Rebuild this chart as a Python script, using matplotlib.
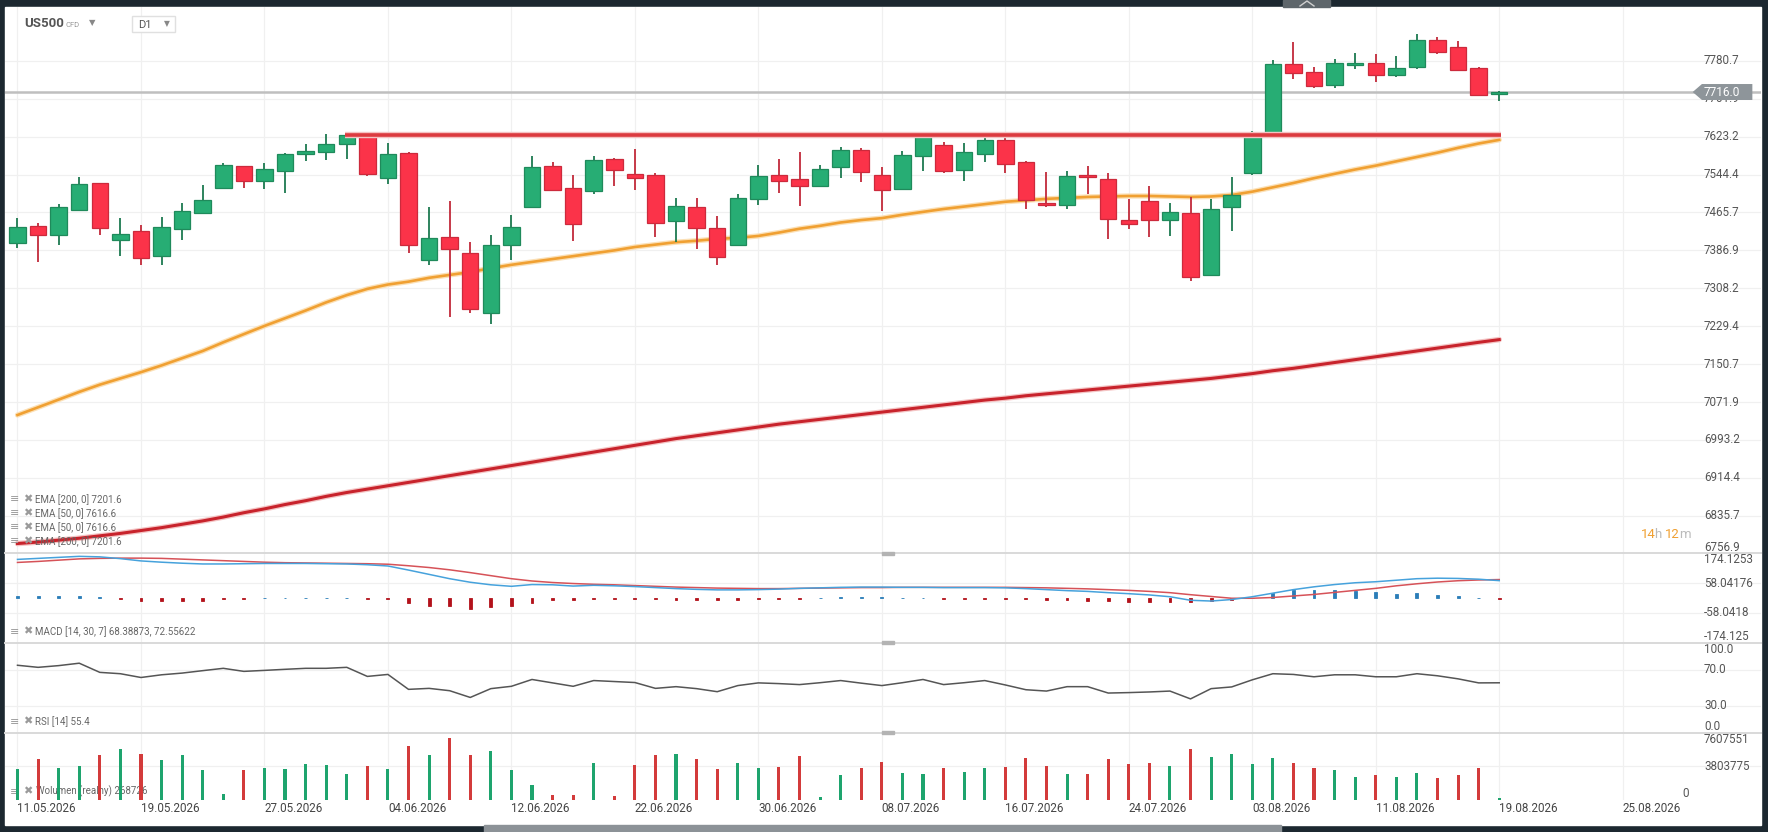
import numpy as np
import matplotlib.pyplot as plt
from matplotlib.patches import Rectangle, Polygon
from matplotlib.lines import Line2D

plt.rcParams['font.family'] = ['Roboto', 'DejaVu Sans']

# ---- values (daily candles 11.05 - 19.08.2026) ----
opens = [7401.6, 7437.4, 7418.1, 7471.8, 7526.8, 7407.8, 7427.0, 7375.4, 7431.2, 7465.6,
         7517.2, 7561.3, 7531.7, 7552.3, 7587.4, 7591.5, 7608.1, 7626.6, 7537.2, 7590.2,
         7366.5, 7415.3, 7382.3, 7257.0, 7397.4, 7478.0, 7561.3, 7515.8, 7511.0, 7577.8,
         7545.4, 7542.7, 7447.0, 7476.6, 7433.2, 7398.1, 7493.7, 7544.3, 7535.3, 7521.4,
         7560.9, 7596.2, 7544.3, 7514.5, 7583.7, 7606.6, 7553.9, 7587.9, 7616.3, 7571.3,
         7486.1, 7481.2, 7544.3, 7535.3, 7450.1, 7489.6, 7450.1, 7464.6, 7335.8, 7477.1,
         7547.0, 7626.7, 7773.5, 7756.9, 7730.5, 7772.1, 7776.2, 7750.6, 7767.2, 7824.0,
         7810.2, 7766.5, 7712.0]
closes = [7435.3, 7418.1, 7476.6, 7524.1, 7432.5, 7421.5, 7371.3, 7435.3, 7468.3, 7491.7,
          7565.4, 7531.7, 7555.1, 7588.1, 7594.3, 7608.1, 7626.6, 7544.7, 7588.1, 7397.4,
          7413.3, 7389.2, 7265.3, 7398.8, 7436.0, 7559.2, 7512.4, 7440.8, 7575.7, 7554.4,
          7537.8, 7444.9, 7478.7, 7433.2, 7373.3, 7495.2, 7542.2, 7531.1, 7521.4, 7556.0,
          7596.2, 7550.5, 7513.1, 7585.1, 7623.2, 7551.9, 7591.3, 7616.3, 7566.4, 7491.6,
          7481.2, 7541.5, 7539.4, 7452.2, 7442.5, 7450.8, 7466.7, 7331.7, 7472.9, 7502.0,
          7630.1, 7773.5, 7754.8, 7727.8, 7776.2, 7776.9, 7751.3, 7765.9, 7824.0, 7799.1,
          7761.7, 7709.1, 7716.0]
highs = [7453.9, 7444.2, 7483.5, 7539.2, 7528.0, 7453.9, 7438.7, 7455.9, 7485.5, 7522.7,
         7568.1, 7563.3, 7569.5, 7589.5, 7608.1, 7629.4, 7628.7, 7627.5, 7609.4, 7591.0,
         7477.3, 7490.4, 7404.3, 7419.5, 7460.1, 7583.3, 7570.2, 7542.7, 7583.3, 7578.5,
         7597.0, 7547.5, 7495.2, 7495.2, 7458.0, 7503.4, 7565.0, 7577.5, 7592.0, 7563.6,
         7601.7, 7599.0, 7560.9, 7594.1, 7624.5, 7612.1, 7610.7, 7623.2, 7626.7, 7572.7,
         7550.5, 7551.9, 7561.6, 7548.4, 7494.4, 7521.4, 7486.1, 7497.9, 7493.7, 7538.7,
         7635.7, 7781.8, 7819.2, 7768.6, 7785.2, 7796.3, 7794.2, 7791.5, 7836.5, 7829.6,
         7822.6, 7768.6, 7718.8]
lows = [7391.2, 7363.7, 7398.8, 7470.5, 7419.5, 7374.7, 7356.1, 7356.1, 7407.8, 7464.5,
        7516.0, 7516.5, 7514.4, 7506.9, 7572.9, 7574.3, 7576.4, 7540.6, 7525.5, 7380.9,
        7356.1, 7248.8, 7256.3, 7235.0, 7366.5, 7477.0, 7509.6, 7405.7, 7504.8, 7521.3,
        7512.4, 7415.3, 7404.3, 7390.5, 7357.5, 7397.0, 7481.2, 7505.5, 7479.2, 7520.0,
        7537.3, 7528.3, 7468.8, 7513.0, 7551.9, 7548.4, 7531.1, 7570.6, 7547.0, 7472.9,
        7477.1, 7472.9, 7504.1, 7410.6, 7430.7, 7414.8, 7416.1, 7324.0, 7334.5, 7426.5,
        7543.6, 7625.5, 7743.7, 7723.6, 7723.6, 7763.1, 7736.1, 7747.2, 7763.1, 7794.2,
        7760.5, 7708.0, 7697.3]

ema50 = [7045, 7061, 7077, 7093, 7108, 7121, 7134, 7148, 7163, 7178,
         7196, 7213, 7230, 7246, 7262, 7279, 7294, 7307, 7316, 7322,
         7330, 7336, 7342, 7350, 7357, 7363, 7369, 7375, 7381, 7387,
         7394, 7399, 7404, 7407, 7411, 7413, 7417, 7424, 7432, 7438,
         7445, 7450, 7454, 7461, 7467, 7473, 7478, 7483, 7488, 7491,
         7494, 7496, 7498, 7499, 7500, 7500, 7499, 7498, 7499, 7502,
         7509, 7518, 7527, 7537, 7546, 7555, 7563, 7572, 7581, 7590,
         7600, 7609, 7616.6]
ema200 = [6778, 6781, 6785, 6789, 6794, 6799, 6805, 6811, 6818, 6825,
          6833, 6842, 6850, 6859, 6867, 6876, 6884, 6891, 6898, 6905,
          6912, 6919, 6926, 6933, 6940, 6947, 6954, 6961, 6968, 6975,
          6982, 6989, 6996, 7002, 7008, 7014, 7020, 7026, 7031, 7036,
          7041, 7046, 7051, 7056, 7061, 7066, 7071, 7076, 7080, 7085,
          7089, 7093, 7097, 7101, 7105, 7109, 7113, 7117, 7121, 7126,
          7131, 7137, 7142, 7148, 7154, 7160, 7166, 7172, 7178, 7184,
          7190, 7196, 7201.6]

macd = [152, 156, 160, 164, 162, 155, 146, 141, 137, 134,
        134, 135, 136, 136, 136, 135, 134, 131, 126, 110,
        93, 76, 62, 52, 46, 53, 52, 47, 50, 48,
        45, 41, 37, 34, 32, 32, 33, 35, 38, 40,
        42, 43, 43, 42, 42, 41, 41, 41, 40, 37,
        33, 29, 26, 21, 17, 12, 5, -9, -12, -6,
        5, 19, 33, 44, 53, 60, 64, 70, 76, 78,
        77, 74, 68.4]
signal = [140, 144, 149, 154, 156, 157, 157, 156, 153, 150,
          147, 144, 141, 139, 138, 137, 136, 135, 133, 127,
          120, 111, 100, 88, 76, 67, 61, 57, 54, 52,
          49, 46, 43, 41, 39, 38, 37, 37, 38, 39,
          40, 41, 41, 42, 42, 42, 42, 42, 42, 41,
          40, 38, 36, 33, 30, 26, 21, 13, 6, -1,
          -1, 2, 8, 14, 22, 30, 38, 48, 56, 63,
          68, 71, 72.6]
hist = [8, 8, 8, 8, 2, -2, -10, -10, -10, -10,
        -3, -3, 0, 0, 0, 0, 0, -4, -5, -20,
        -30, -33, -44, -36, -33, -18, -9, -6, -3, -3,
        -2, -4, -6, -7, -8, -7, -5, -4, -2, 0,
        2, 3, 2, 0, 0, -2, -2, -3, -3, -5,
        -8, -9, -10, -13, -14, -14, -15, -17, -13, -7,
        0, 21, 31, 32, 31, 29, 22, 17, 18, 13,
        6, 0, -4]

rsi = [74.9, 72.6, 74.5, 77.2, 67.0, 65.5, 61.3, 64.3, 66.2, 68.9,
       71.5, 68.1, 69.2, 70.4, 71.5, 71.5, 72.6, 62.5, 64.7, 48.1,
       49.2, 46.6, 39.1, 48.9, 51.5, 59.1, 55.3, 51.5, 57.9, 56.8,
       55.7, 49.2, 51.1, 48.9, 45.5, 52.3, 55.3, 54.5, 53.4, 55.5,
       57.9, 55.0, 52.3, 55.5, 59.1, 53.4, 55.5, 57.9, 53.0, 47.7,
       46.2, 51.1, 51.1, 44.0, 44.5, 45.2, 46.2, 37.5, 48.9, 50.8,
       58.7, 65.5, 64.7, 62.1, 64.3, 64.3, 62.1, 62.1, 65.5, 63.2,
       59.8, 55.3, 55.4]

# volume in millions
volume = [3.47, 4.59, 3.58, 3.80, 5.03, 5.71, 5.15, 4.47, 5.03, 3.36,
          0.67, 3.36, 3.58, 3.47, 4.03, 3.92, 2.91, 3.80, 3.47, 6.15,
          5.03, 7.05, 5.03, 5.48, 3.36, 1.68, 0.56, 0.56, 4.14, 0.45,
          3.92, 5.03, 5.15, 4.59, 3.47, 4.14, 3.58, 3.69, 4.92, 0.34,
          2.80, 3.58, 4.25, 3.02, 2.91, 3.58, 3.13, 3.58, 3.69, 4.70,
          3.80, 2.91, 2.91, 4.59, 4.03, 4.14, 3.80, 5.71, 4.81, 5.15,
          4.03, 4.70, 4.14, 3.58, 3.36, 2.57, 2.80, 2.57, 3.02, 2.46,
          2.80, 3.58, 0.27]

date_ticks = [0, 6, 12, 18, 24, 30, 36, 42, 48, 54, 60, 66, 72, 78]
date_labels = ['11.05.2026', '19.05.2026', '27.05.2026', '04.06.2026', '12.06.2026',
               '22.06.2026', '30.06.2026', '08.07.2026', '16.07.2026', '24.07.2026',
               '03.08.2026', '11.08.2026', '19.08.2026', '25.08.2026']

price_ticks = [6756.9, 6835.7, 6914.4, 6993.2, 7071.9, 7150.7, 7229.4, 7308.2,
               7386.9, 7465.7, 7544.4, 7623.2, 7701.9, 7780.7]
last_price = 7716.0
resistance = 7626.5
res_from, res_to = 16, 72

macd_levels = [174.1253, 58.04176, -58.0418, -174.125]
vol_levels = [7607551, 3803775, 0]

# ---- figure ----
W, H = 1768, 832
fig = plt.figure(figsize=(W / 100, H / 100), dpi=100)
fig.patch.set_facecolor('#1c2830')


def box(x0, y0, x1, y1):
    return [x0 / W, 1 - y1 / H, (x1 - x0) / W, (y1 - y0) / H]


def ftext(x, y, s, **kw):
    kw.setdefault('va', 'center')
    return fig.text(x / W, 1 - y / H, s, **kw)


def frect(x0, y0, x1, y1, **kw):
    fig.patches.append(Rectangle((x0 / W, 1 - y1 / H), (x1 - x0) / W, (y1 - y0) / H,
                                 transform=fig.transFigure, **kw))


# frame bits around the white chart
frect(5, 7, 1761, 825, color='white', zorder=-5)
frect(484, 825, 1281, 832, color='#8c9297', zorder=-5)
frect(1283, 0, 1330, 7, color='#5e666b', zorder=-5)
fig.lines.append(Line2D([1300 / W, 1307 / W, 1314 / W], [1 - 6 / H, 1 - 1 / H, 1 - 6 / H],
                        transform=fig.transFigure, color='#d0d0d0', lw=1))

ax_p = fig.add_axes(box(5, 7, 1761, 553.3))
ax_m = fig.add_axes(box(5, 553.3, 1761, 642.7))
ax_r = fig.add_axes(box(5, 642.7, 1761, 732.6))
ax_v = fig.add_axes(box(5, 732.6, 1761, 800))

xmin, xmax = -0.607, 84.72
lab_x = 81.95
for ax in (ax_p, ax_m, ax_r, ax_v):
    ax.set_facecolor('none')
    ax.set_xlim(xmin, xmax)
    for s in ax.spines.values():
        s.set_visible(False)
    ax.set_yticks([])
    ax.tick_params(axis='x', length=0)
    ax.set_xticks([])
    for t in date_ticks:
        ax.axvline(t, color='#f0f0f0', lw=0.9, zorder=0)

lab_kw = dict(fontsize=8.4, color='#555555', ha='left')

# ---- price panel ----
o = np.array(opens); c = np.array(closes)
hi = np.array(highs); lo = np.array(lows)
x = np.arange(len(o))
up = c >= o

ax_p.set_ylim(6757.7, 7892.6)
for lvl in price_ticks:
    ax_p.axhline(lvl, color='#f0f0f0', lw=0.9, zorder=0)
    va = 'bottom' if lvl == price_ticks[0] else 'center'
    ax_p.text(lab_x, lvl, f'{lvl:.1f}', va=va, zorder=1, **lab_kw)

ax_p.axhline(last_price, color='#bfbfbf', lw=1.8, zorder=1.5)

ax_p.plot(x, ema200, color='#f4c4c4', lw=4.0, zorder=2, solid_capstyle='round')
ax_p.plot(x, ema200, color='#c8232c', lw=2.2, zorder=2.1)
ax_p.plot(x, ema50, color='#fbe0b6', lw=3.8, zorder=2, solid_capstyle='round')
ax_p.plot(x, ema50, color='#f0a032', lw=1.9, zorder=2.1)

ax_p.vlines(x, lo, hi, colors=np.where(up, '#1d7a50', '#c22a3a'), lw=1.3, zorder=3)
ax_p.bar(x, np.maximum(np.abs(c - o), 1.5), bottom=np.minimum(o, c), width=0.8,
         color=np.where(up, '#27ad74', '#fb3349'),
         edgecolor=np.where(up, '#1f8a5b', '#cc2a3c'), linewidth=0.9, zorder=4)

ax_p.plot([res_from - 0.1, res_to + 0.1], [resistance, resistance], color='#f5c2c2', lw=4.6, zorder=5,
          solid_capstyle='butt')
ax_p.plot([res_from - 0.1, res_to + 0.1], [resistance, resistance], color='#dc3a3f', lw=2.6, zorder=5.1,
          solid_capstyle='butt')

# current price tag
hh = 16.6
tag = Polygon([[81.4, last_price], [81.85, last_price + hh], [84.3, last_price + hh],
               [84.3, last_price - hh], [81.85, last_price - hh]],
              closed=True, facecolor='#8e959a', edgecolor='none', zorder=6)
ax_p.add_patch(tag)
ax_p.text(lab_x, last_price, f'{last_price:.1f}', va='center', ha='left', fontsize=8.6,
          color='white', zorder=7)

# ---- MACD panel ----
ax_m.set_ylim(-176, 176)
for lvl in (58.04176, -58.0418):
    ax_m.axhline(lvl, color='#f0f0f0', lw=0.9, zorder=0)
ax_m.text(lab_x, 176, f'{macd_levels[0]}', va='top', **lab_kw)
ax_m.text(lab_x, macd_levels[1], f'{macd_levels[1]}', va='center', **lab_kw)
ax_m.text(lab_x, macd_levels[2], f'{macd_levels[2]}', va='center', **lab_kw)
ax_m.text(lab_x, -176, f'{macd_levels[3]}', va='bottom', **lab_kw)
hv = np.array(hist, dtype=float)
hcol = np.where(hv >= 0, '#2a7db8', '#b3121b')
ax_m.bar(x, hv, width=0.14, color=hcol, edgecolor=hcol, linewidth=0.6, zorder=2)
ax_m.plot(x, signal, color='#d65258', lw=1.1, zorder=3)
ax_m.plot(x, macd, color='#46a2dc', lw=1.1, zorder=3)

# ---- RSI panel ----
ax_r.set_ylim(0, 100)
for lvl in (70, 30):
    ax_r.axhline(lvl, color='#f0f0f0', lw=0.9, zorder=0)
ax_r.text(lab_x, 100, '100.0', va='top', **lab_kw)
ax_r.text(lab_x, 70, '70.0', va='center', **lab_kw)
ax_r.text(lab_x, 30, '30.0', va='center', **lab_kw)
ax_r.text(lab_x, 0, '0.0', va='bottom', **lab_kw)
ax_r.plot(x, rsi, color='#555555', lw=1.1, zorder=3)

# ---- volume panel ----
ax_v.set_ylim(0, 7.607551)
ax_v.axhline(3.803775, color='#f0f0f0', lw=0.9, zorder=0)
ax_v.bar(x, volume, width=0.15, color=np.where(up, '#1ea46e', '#d33b3b'), zorder=2)
ax_v.text(lab_x, 7.607551, str(vol_levels[0]), va='top', **lab_kw)
ax_v.text(lab_x, 3.803775, str(vol_levels[1]), va='center', **lab_kw)
ax_v.text(80.9, 0, '0', va='bottom', **lab_kw)
ax_v.set_xticks(date_ticks, labels=date_labels)
ax_v.tick_params(axis='x', length=0, pad=1.5, labelsize=8.4, labelcolor='#444444')
for t in ax_v.get_xticklabels():
    t.set_ha('left')

# panel dividers and their handles
for yd in (553.3, 642.7, 732.6):
    fig.lines.append(Line2D([5 / W, 1761 / W], [1 - yd / H] * 2, transform=fig.transFigure,
                            color='#d9d9d9', lw=1.4))
    frect(882, yd - 1.5, 894, yd + 1.5, color='#b3b3b3', zorder=3)

# ---- legends / header ----
icon_kw = dict(fontsize=8, color='#9a9a9a', ha='center')
leg_kw = dict(fontsize=7, color='#666666', ha='left')
legend_rows = [(499.3, 'EMA [200, 0] 7201.6'), (513.3, 'EMA [50, 0] 7616.6'),
               (527.3, 'EMA [50, 0] 7616.6'), (541.3, 'EMA [200, 0] 7201.6'),
               (631.7, 'MACD [14, 30, 7] 68.38873, 72.55622'), (721.7, 'RSI [14] 55.4')]
for yy, s in legend_rows:
    ftext(15, yy, '≡', **icon_kw)
    ftext(27.5, yy, '✖', **icon_kw)
    ftext(35, yy, s, **leg_kw)

vy = 791.7
for xx, s in ((15, '≡'), (27.5, '✖')):
    ax_v.text(xx / W, 1 - vy / H, s, transform=fig.transFigure, va='center', zorder=1, **icon_kw)
ax_v.text(35.5 / W, 1 - vy / H, 'Wolumen (realny) 268726', transform=fig.transFigure,
          va='center', zorder=1, **leg_kw)

ftext(24, 23.5, 'US500', fontsize=9.5, fontweight='bold', color='#555555')
ftext(66, 25, 'CFD', fontsize=5.5, color='#999999')
ftext(92, 22.5, '▼', fontsize=6, color='#888888', ha='center')
frect(132, 16, 175, 32, facecolor='white', edgecolor='#e0e0e0', lw=1, zorder=3)
ftext(138.5, 24.5, 'D1', fontsize=8, color='#555555')
ftext(167, 24, '▼', fontsize=5.5, color='#888888', ha='center')

cd_y = 534.3
ftext(1641, cd_y, '14', fontsize=9.5, color='#f0a032')
ftext(1654.5, cd_y, 'h', fontsize=9.5, color='#bbbbbb')
ftext(1665, cd_y, '12', fontsize=9.5, color='#f0a032')
ftext(1679.5, cd_y, 'm', fontsize=9.5, color='#bbbbbb')

fig.savefig('out.png', dpi=100, facecolor=fig.get_facecolor())
